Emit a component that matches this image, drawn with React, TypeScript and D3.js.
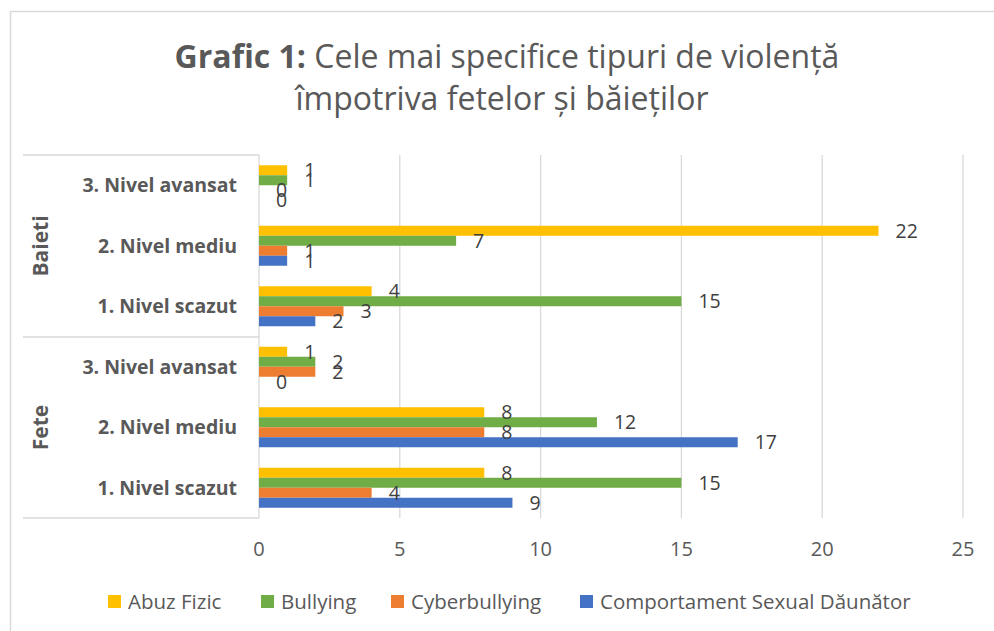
import React from "react";
import * as d3 from "d3";

const groups = ["Baieti", "Fete"];
const levels = ["3. Nivel avansat", "2. Nivel mediu", "1. Nivel scazut"];
const series = ["Abuz Fizic", "Bullying", "Cyberbullying", "Comportament Sexual Dăunător"];
const colors = ["#FFC000", "#70AD47", "#ED7D31", "#4472C4"];
// values per series, rows ordered top to bottom: Baieti 3,2,1 then Fete 3,2,1
const abuzFizic = [1, 22, 4, 1, 8, 8];
const bullying = [1, 7, 15, 2, 12, 15];
const cyberbullying = [0, 1, 3, 2, 8, 4];
const comportamentSexual = [0, 1, 2, 0, 17, 9];
const xTicks = [0, 5, 10, 15, 20, 25];

const seriesValues = [abuzFizic, bullying, cyberbullying, comportamentSexual];

export default function App() {
  const W = 994, H = 631;
  const x = d3.scaleLinear().domain([0, 25]).range([259, 963]);
  const rows = groups.flatMap((g) => levels.map((l) => `${g}|${l}`));
  const p = 20.5 / 60.5;
  const y = d3.scaleBand<string>().domain(rows).range([155, 518]).paddingInner(p).paddingOuter(p / 2);
  const ys = d3.scaleBand<string>().domain(series).range([0, y.bandwidth()]);
  const font = "'Open Sans', sans-serif";
  const grid = "#d9d9d9";
  const groupBounds = [155, 337, 518];

  const legendX = [108, 261, 391, 580];

  return (
    <svg width={W} height={H} style={{ position: "absolute", left: 0, top: 0, background: "#fff" }} fontFamily={font}>
      <rect x={0} y={0} width={W} height={H} fill="#fff" />
      <rect x={10.5} y={11.5} width={1000} height={700} fill="none" stroke={grid} strokeWidth={1.5} />
      <text x={507} y={68} textAnchor="middle" fontSize={32} fill="#595959">
        <tspan fontWeight="bold">Grafic 1:</tspan>
        <tspan> Cele mai specifice tipuri de violență</tspan>
      </text>
      <text x={502} y={110} textAnchor="middle" fontSize={32} fill="#595959">
        împotriva fetelor și băieților
      </text>
      {/* gridlines */}
      {xTicks.map((t) => (
        <line key={t} x1={x(t)} x2={x(t)} y1={155} y2={518} stroke={grid} strokeWidth={1.3} />
      ))}
      {/* category axis group lines */}
      {groupBounds.map((b) => (
        <line key={b} x1={23} x2={259} y1={b} y2={b} stroke={grid} strokeWidth={1.5} />
      ))}
      {/* bars */}
      {rows.map((r, i) =>
        series.map((s, si) => {
          const v = seriesValues[si][i];
          return (
            <rect
              key={r + s}
              x={x(0)}
              y={(y(r) as number) + (ys(s) as number)}
              width={x(v) - x(0)}
              height={ys.bandwidth()}
              fill={colors[si]}
            />
          );
        })
      )}
      {/* data labels */}
      {rows.map((r, i) =>
        series.map((s, si) => {
          const v = seriesValues[si][i];
          const cy = (y(r) as number) + (ys(s) as number) + ys.bandwidth() / 2;
          return (
            <text key={"l" + r + s} x={x(v) + 17} y={cy + 7} fontSize={19.5} fill="#404040">
              {v}
            </text>
          );
        })
      )}
      {/* level labels */}
      {rows.map((r) => {
        const lvl = r.split("|")[1];
        const cy = (y(r) as number) + y.bandwidth() / 2;
        return (
          <text key={"c" + r} x={237} y={cy + 7} textAnchor="end" fontSize={19.5} fontWeight="bold" fill="#595959">
            {lvl}
          </text>
        );
      })}
      {/* group labels */}
      {groups.map((g, gi) => {
        const cy = (groupBounds[gi] + groupBounds[gi + 1]) / 2;
        return (
          <text key={g} transform={`translate(48,${cy}) rotate(-90)`} textAnchor="middle" fontSize={21} fontWeight="bold" fill="#595959">
            {g}
          </text>
        );
      })}
      {/* x tick labels */}
      {xTicks.map((t) => (
        <text key={"t" + t} x={x(t)} y={556} textAnchor="middle" fontSize={20} fill="#595959">
          {t}
        </text>
      ))}
      {/* legend */}
      {series.map((s, si) => (
        <g key={"lg" + s} transform={`translate(${legendX[si]},595)`}>
          <rect x={0} y={0} width={13} height={13} fill={colors[si]} />
          <text x={20} y={14} fontSize={20.5} fill="#595959">
            {s}
          </text>
        </g>
      ))}
    </svg>
  );
}
